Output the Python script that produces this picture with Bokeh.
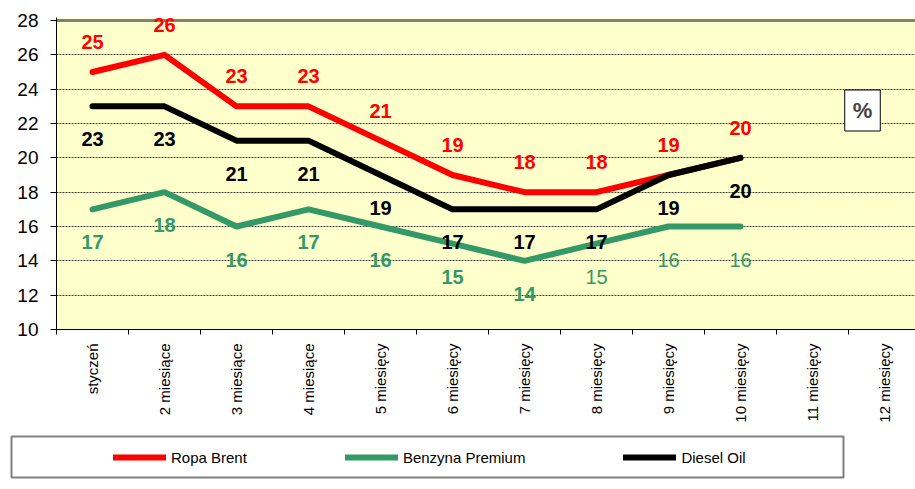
import math
from bokeh.plotting import figure
from bokeh.layouts import column
from bokeh.models import Range1d, FixedTicker, Legend, LegendItem, Label, Span
from bokeh.core.properties import value
from bokeh.embed import file_html
from bokeh.resources import INLINE

categories = ["styczeń", "2 miesiące", "3 miesiące", "4 miesiące", "5 miesięcy",
              "6 miesięcy", "7 miesięcy", "8 miesięcy", "9 miesięcy", "10 miesięcy",
              "11 miesięcy", "12 miesięcy"]
ropa_brent = [25, 26, 23, 23, 21, 19, 18, 18, 19, 20]
benzyna_premium = [17, 18, 16, 17, 16, 15, 14, 15, 16, 16]
diesel_oil = [23, 23, 21, 21, 19, 17, 17, 17, 19, 20]
series_names = ["Ropa Brent", "Benzyna Premium", "Diesel Oil"]
y_ticks = [10, 12, 14, 16, 18, 20, 22, 24, 26, 28]

FONT_NAME = "Liberation Sans"
FONT = value(FONT_NAME)
RED = "#FF0000"
GREEN = "#339966"
BLACK = "#000000"

W = 915
H_MAIN = 430
LEFT = 56
Y28_PX, FRAME_BOTTOM = 20, 329
TOP = 17
px_per_unit = (FRAME_BOTTOM - Y28_PX) / (y_ticks[-1] - y_ticks[0])
y_top = y_ticks[-1] + (Y28_PX - TOP) / px_per_unit
frame_w = W - LEFT
cat_px = 72.0

p = figure(width=W, height=H_MAIN, output_backend="svg", toolbar_location=None,
           x_range=Range1d(-0.5, -0.5 + frame_w / cat_px), y_range=Range1d(y_ticks[0], y_top),
           min_border_left=LEFT, min_border_right=0, min_border_top=TOP,
           min_border_bottom=H_MAIN - FRAME_BOTTOM)
p.frame_align = False
p.background_fill_color = "#FFFFCC"
p.border_fill_color = "white"
p.outline_line_color = None

# top border of the plot area
p.add_layout(Span(location=y_ticks[-1], dimension="width", line_color="#808080",
                  line_width=3, level="underlay"))

# y axis
p.yaxis.ticker = FixedTicker(ticks=y_ticks)
p.yaxis.axis_line_color = "black"
p.yaxis.major_tick_out = 6
p.yaxis.major_tick_in = 0
p.yaxis.minor_tick_line_color = None
p.yaxis.major_label_standoff = 12
p.yaxis.major_label_text_font = FONT_NAME
p.yaxis.major_label_text_font_size = "19px"
p.yaxis.major_label_text_color = "black"

# x axis: labels at category centres, ticks at category boundaries (minor ticks)
n = len(categories)
p.xaxis.ticker = FixedTicker(ticks=list(range(n)), minor_ticks=[i - 0.5 for i in range(n + 1)])
p.xaxis.major_label_overrides = {i: c for i, c in enumerate(categories)}
p.xaxis.major_label_orientation = math.pi / 2
p.xaxis.major_tick_out = 0
p.xaxis.major_tick_in = 0
p.xaxis.minor_tick_out = 5
p.xaxis.minor_tick_in = 0
p.xaxis.minor_tick_line_color = "black"
p.xaxis.axis_line_color = "black"
p.xaxis.major_label_standoff = 9
p.xaxis.major_label_text_font = FONT_NAME
p.xaxis.major_label_text_font_size = "15px"
p.xaxis.major_label_text_color = "black"

p.xgrid.grid_line_color = None
p.ygrid.ticker = FixedTicker(ticks=y_ticks[1:-1])
p.ygrid.grid_line_color = "#404040"
p.ygrid.grid_line_dash = "2 1"
p.ygrid.grid_line_width = 1

xs = list(range(len(ropa_brent)))
line_kw = dict(line_width=6, line_cap="round", line_join="round")

p.line(xs, ropa_brent, line_color=RED, **line_kw)
p.line(xs, benzyna_premium, line_color=GREEN, **line_kw)
p.line(xs, diesel_oil, line_color=BLACK, **line_kw)

common = dict(text_font=FONT, text_font_size="20px", text_align="center", text_baseline="middle")
p.text(xs, ropa_brent, text=[str(v) for v in ropa_brent], text_color=RED,
       text_font_style="bold", y_offset=-30, **common)
p.text(xs, diesel_oil, text=[str(v) for v in diesel_oil], text_color=BLACK,
       text_font_style="bold", y_offset=33, **common)
nb = 7
p.text(xs[:nb], benzyna_premium[:nb], text=[str(v) for v in benzyna_premium[:nb]],
       text_color=GREEN, text_font_style="bold", y_offset=33, **common)
p.text(xs[nb:], benzyna_premium[nb:], text=[str(v) for v in benzyna_premium[nb:]],
       text_color=GREEN, text_font_style="normal", y_offset=33, **common)

# "%" box with a small shadow
shadow = Label(x=808, y=217, x_units="screen", y_units="screen", text="%",
               text_font=FONT_NAME, text_font_size="22px", text_font_style="bold",
               text_align="center", text_baseline="middle", text_alpha=0,
               background_fill_color="#808080", border_line_color="#808080",
               border_line_width=1, padding=8)
pct = Label(x=806, y=219, x_units="screen", y_units="screen", text="%",
            text_font=FONT_NAME, text_font_size="22px", text_font_style="bold",
            text_align="center", text_baseline="middle",
            background_fill_color="white", border_line_color="black",
            border_line_width=1, padding=8)
p.add_layout(shadow)
p.add_layout(pct)

# legend panel: its frame is the legend box
H_LEG = 489 - H_MAIN
q = figure(width=W, height=H_LEG, output_backend="svg", toolbar_location=None,
           x_range=Range1d(0, 1), y_range=Range1d(100, 101),
           x_axis_location=None, y_axis_location=None,
           min_border_left=11, min_border_right=W - 843, min_border_top=6,
           min_border_bottom=H_LEG - 6 - 41)
q.frame_align = False
q.grid.visible = False
q.background_fill_color = "white"
q.border_fill_color = "white"
q.outline_line_color = "#7F7F7F"
q.outline_line_width = 2

lr = q.line(xs, ropa_brent, line_color=RED, **line_kw)
lg = q.line(xs, benzyna_premium, line_color=GREEN, **line_kw)
lb = q.line(xs, diesel_oil, line_color=BLACK, **line_kw)

legend = Legend(items=[LegendItem(label=series_names[0], renderers=[lr]),
                       LegendItem(label=series_names[1], renderers=[lg]),
                       LegendItem(label=series_names[2], renderers=[lb])],
                orientation="horizontal", location=(97, 5),
                border_line_alpha=0, background_fill_alpha=0,
                glyph_width=53, glyph_height=20, label_height=20,
                label_standoff=5, spacing=98, padding=5, margin=0,
                label_text_font=FONT_NAME, label_text_font_size="15px",
                label_text_color="black")
q.add_layout(legend)

layout = column(p, q, spacing=0)
open("out.html", "w").write(file_html(layout, INLINE))
